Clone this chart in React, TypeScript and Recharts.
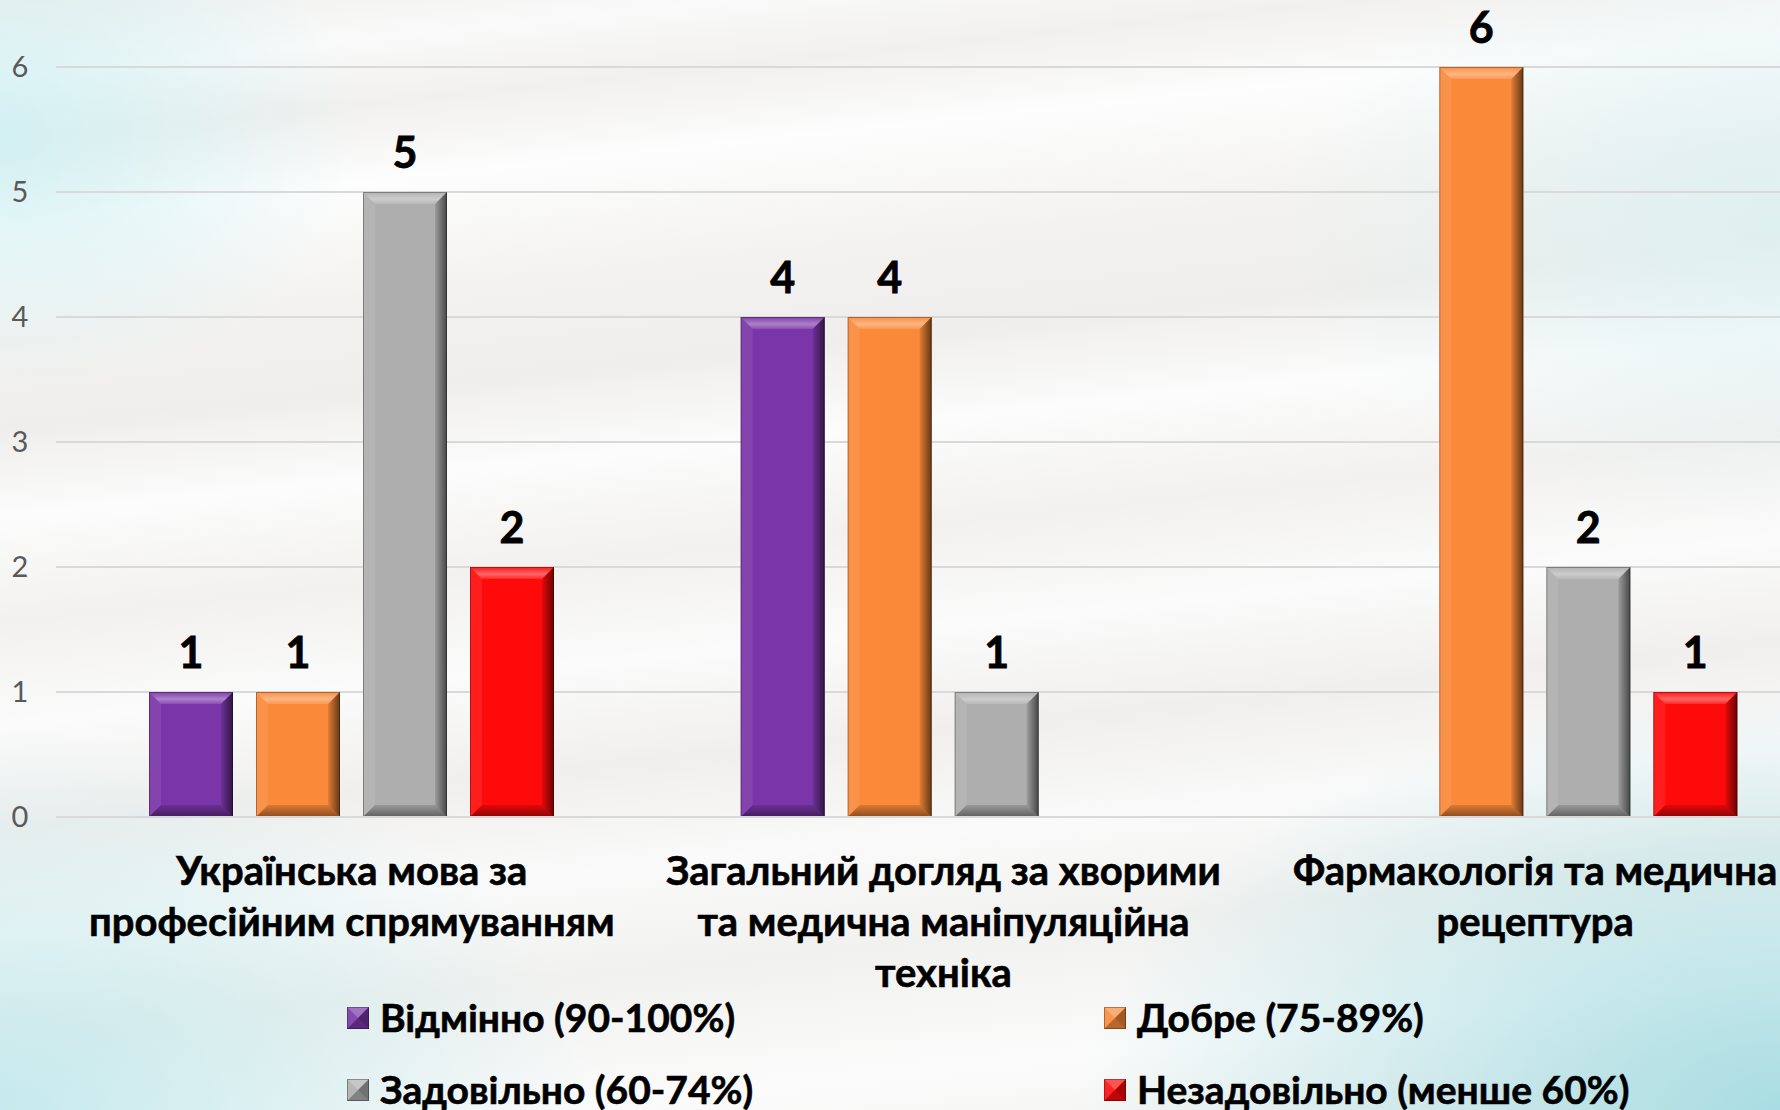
import React from "react";
import { BarChart, Bar, XAxis, YAxis, CartesianGrid, LabelList } from "recharts";

const categories = [
  "Українська мова за професійним спрямуванням",
  "Загальний догляд за хворими та медична маніпуляційна техніка",
  "Фармакологія та медична рецептура",
];
const categoryLines = [
  ["Українська мова за", "професійним спрямуванням"],
  ["Загальний догляд за хворими", "та медична маніпуляційна", "техніка"],
  ["Фармакологія та медична", "рецептура"],
];
const excellent = [1, 4, null];
const good = [1, 4, 6];
const satisfactory = [5, 1, 2];
const unsatisfactory = [2, null, 1];
const yTicks = [0, 1, 2, 3, 4, 5, 6];

const series = [
  { key: "excellent", name: "Відмінно (90-100%)", color: "#7A35A8", values: excellent },
  { key: "good", name: "Добре (75-89%)", color: "#FA8A3A", values: good },
  { key: "satisfactory", name: "Задовільно (60-74%)", color: "#AEAEAE", values: satisfactory },
  { key: "unsatisfactory", name: "Незадовільно (менше 60%)", color: "#FF0A0A", values: unsatisfactory },
];

const data = categories.map((name, i) => {
  const row: any = { name };
  series.forEach((s) => (row[s.key] = s.values[i]));
  return row;
});

const FONT = "Lato, 'Noto Sans', 'Open Sans', sans-serif";

const BevelBar = (props: any) => {
  const { x, y, width, height, fill } = props;
  if (!height || height <= 0 || !width) return null;
  const b = Math.min(12, width / 4, height / 4);
  const r = x + width;
  const bt = y + height;
  return (
    <g>
      <rect x={x} y={y} width={width} height={height} fill={fill} />
      <polygon points={`${x},${y} ${r},${y} ${r - b},${y + b} ${x + b},${y + b}`} fill="url(#bevTop)" />
      <polygon points={`${x},${y} ${x + b},${y + b} ${x + b},${bt - b} ${x},${bt}`} fill="#ffffff" fillOpacity={0.08} />
      <polygon points={`${r},${y} ${r},${bt} ${r - b},${bt - b} ${r - b},${y + b}`} fill="url(#bevRight)" />
      <polygon points={`${x},${bt} ${x + b},${bt - b} ${r - b},${bt - b} ${r},${bt}`} fill="url(#bevBottom)" />
      <rect x={x + 0.5} y={y + 0.5} width={width - 1} height={height - 1} fill="none" stroke="#000" strokeOpacity={0.3} />
    </g>
  );
};

const ValueLabel = (props: any) => {
  const { x, y, width, value } = props;
  if (value === null || value === undefined) return null;
  return (
    <text x={x + width / 2} y={y - 24} textAnchor="middle" fontFamily={FONT} fontWeight={700} fontSize={43} fill="#000" stroke="#000" strokeWidth={0.8}>
      {value}
    </text>
  );
};

const XTick = (props: any) => {
  const { x, y, index } = props;
  const lines = categoryLines[index] || [];
  return (
    <g>
      {lines.map((l, i) => (
        <text key={i} x={x} y={y + 68 + i * 51} textAnchor="middle" fontFamily={FONT} fontWeight={700} fontSize={40} fill="#000" stroke="#000" strokeWidth={0.6}>
          {l}
        </text>
      ))}
    </g>
  );
};

const YTick = (props: any) => {
  const { y, payload } = props;
  return (
    <text x={20} y={y + 10} textAnchor="middle" fontFamily={FONT} fontSize={29} fill="#595959">
      {payload.value}
    </text>
  );
};

const LegendIcon = ({ color }: { color: string }) => (
  <svg width={22} height={22} style={{ position: "absolute", left: 0, top: 0 }}>
    <rect x={0} y={0} width={22} height={22} fill={color} />
    <polygon points="0,0 22,0 11,11" fill="#fff" fillOpacity={0.3} />
    <polygon points="0,0 11,11 0,22" fill="#fff" fillOpacity={0.1} />
    <polygon points="22,0 22,22 11,11" fill="#000" fillOpacity={0.35} />
    <polygon points="0,22 11,11 22,22" fill="#000" fillOpacity={0.25} />
    <rect x={0.5} y={0.5} width={21} height={21} fill="none" stroke="#000" strokeOpacity={0.3} />
  </svg>
);

const legendPos = [
  { left: 347, top: 1007 },
  { left: 1104, top: 1007 },
  { left: 347, top: 1079 },
  { left: 1104, top: 1079 },
];

const background = [
  "radial-gradient(ellipse 360px 260px at 0% 12%, rgba(205,240,243,0.85), rgba(205,240,243,0) 100%)",
  "radial-gradient(ellipse 600px 380px at 0% 100%, rgba(190,232,236,0.85), rgba(190,232,236,0) 100%)",
  "radial-gradient(ellipse 700px 420px at 100% 100%, rgba(165,220,226,0.95), rgba(165,220,226,0) 100%)",
  "radial-gradient(ellipse 500px 300px at 100% 20%, rgba(215,240,242,0.7), rgba(215,240,242,0) 100%)",
  "linear-gradient(174deg, #efefed 0%, #fafafa 6%, #f1f0ee 11%, #fdfdfd 17%, #f3f2f0 26%, #efeeec 33%, #fcfcfc 40%, #f2f1ef 48%, #fbfbfb 56%, #f0efed 64%, #fafafa 72%, #f1f1ef 80%, #fbfbfb 90%, #f0f0ee 100%)",
].join(", ");

export default function App() {
  return (
    <div
      style={{
        position: "fixed",
        left: 0,
        top: 0,
        width: 1780,
        height: 1110,
        overflow: "hidden",
        background,
        fontFamily: FONT,
      }}
    >
      <BarChart
        width={1831}
        height={1110}
        data={data}
        margin={{ top: 67, right: 0, bottom: 263, left: 0 }}
        barSize={84}
        barGap={23}
      >
        <defs>
          <linearGradient id="bevTop" x1="0" y1="0" x2="0" y2="1">
            <stop offset="0" stopColor="#fff" stopOpacity={0.05} />
            <stop offset="0.6" stopColor="#fff" stopOpacity={0.38} />
            <stop offset="1" stopColor="#fff" stopOpacity={0.12} />
          </linearGradient>
          <linearGradient id="bevRight" x1="0" y1="0" x2="1" y2="0">
            <stop offset="0" stopColor="#000" stopOpacity={0.1} />
            <stop offset="1" stopColor="#000" stopOpacity={0.6} />
          </linearGradient>
          <linearGradient id="bevBottom" x1="0" y1="0" x2="0" y2="1">
            <stop offset="0" stopColor="#000" stopOpacity={0.12} />
            <stop offset="1" stopColor="#000" stopOpacity={0.45} />
          </linearGradient>
        </defs>
        <CartesianGrid vertical={false} stroke="#D9D9D9" strokeWidth={2} />
        <XAxis
          dataKey="name"
          height={30}
          axisLine={{ stroke: "#D9D9D9", strokeWidth: 2 }}
          tickLine={false}
          tickSize={0}
          tickMargin={0}
          interval={0}
          tick={<XTick />}
        />
        <YAxis
          domain={[0, 6]}
          ticks={yTicks}
          axisLine={false}
          tickLine={false}
          width={56}
          tick={<YTick />}
        />
        {series.map((s) => (
          <Bar key={s.key} dataKey={s.key} name={s.name} fill={s.color} shape={<BevelBar />} isAnimationActive={false}>
            <LabelList dataKey={s.key} content={<ValueLabel />} />
          </Bar>
        ))}
      </BarChart>
      {series.map((s, i) => (
        <div
          key={s.key}
          style={{
            position: "absolute",
            left: legendPos[i].left,
            top: legendPos[i].top,
            height: 30,
            whiteSpace: "nowrap",
          }}
        >
          <LegendIcon color={s.color} />
          <span
            style={{
              position: "absolute",
              left: 33,
              top: -12,
              fontSize: 39,
              fontWeight: 700,
              color: "#000",
              lineHeight: "44px",
              WebkitTextStroke: "0.6px #000",
            }}
          >
            {s.name}
          </span>
        </div>
      ))}
    </div>
  );
}
